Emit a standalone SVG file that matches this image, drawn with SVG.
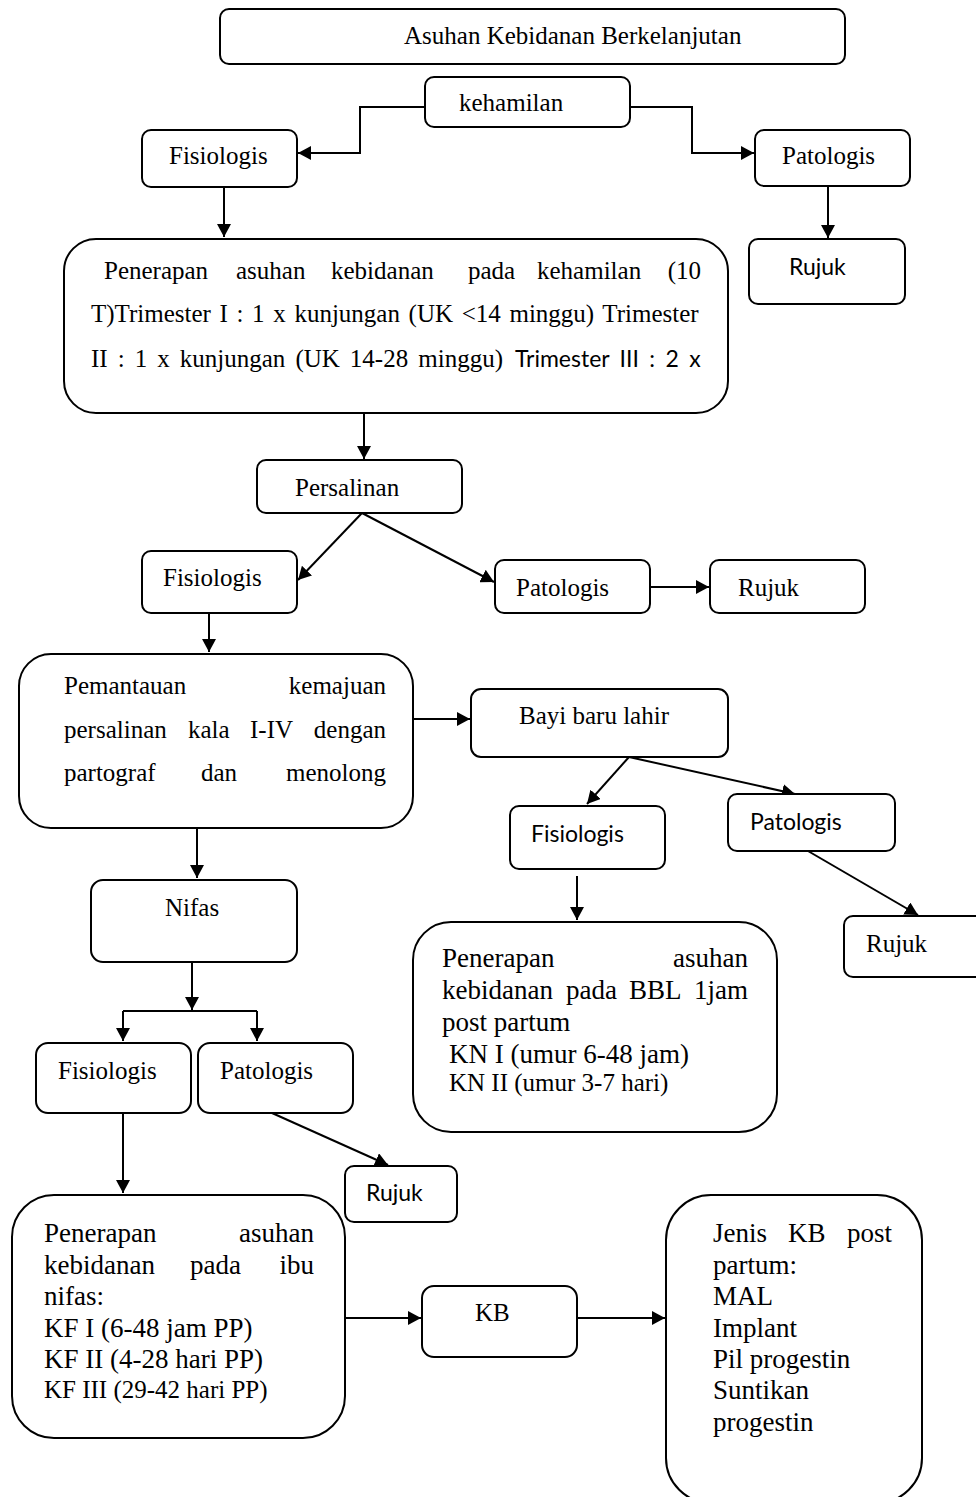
<svg xmlns="http://www.w3.org/2000/svg" width="976" height="1497" viewBox="0 0 976 1497">
<style>
.box{fill:#fff;stroke:#000;stroke-width:2}
.s{font-family:"Liberation Serif","Times New Roman",serif;font-size:25px;fill:#000}
.l{font-family:"Liberation Serif","Times New Roman",serif;font-size:27px;fill:#000}
.c{font-family:Lato,"Liberation Sans",sans-serif;font-size:23px;fill:#000}
.ln{fill:none;stroke:#000;stroke-width:2}
</style>
<defs>
<marker id="ah" markerUnits="userSpaceOnUse" markerWidth="14" markerHeight="14" refX="13" refY="7" orient="auto">
<path d="M0,0 L13,7 L0,14 z" fill="#000"/>
</marker>
</defs>
<rect width="976" height="1497" fill="#fff"/>

<g id="connectors" class="ln">
<polyline points="425,107 360,107 360,153 298,153" marker-end="url(#ah)"/>
<polyline points="630,107 692,107 692,153 754,153" marker-end="url(#ah)"/>
<line x1="224" y1="187" x2="224" y2="237" marker-end="url(#ah)"/>
<line x1="828" y1="186" x2="828" y2="238" marker-end="url(#ah)"/>
<line x1="364" y1="413" x2="364" y2="459" marker-end="url(#ah)"/>
<line x1="362" y1="513" x2="298" y2="580" marker-end="url(#ah)"/>
<line x1="362" y1="513" x2="494" y2="582" marker-end="url(#ah)"/>
<line x1="650" y1="587" x2="709" y2="587" marker-end="url(#ah)"/>
<line x1="209" y1="613" x2="209" y2="652" marker-end="url(#ah)"/>
<line x1="413" y1="719" x2="470" y2="719" marker-end="url(#ah)"/>
<line x1="629" y1="757" x2="587" y2="804" marker-end="url(#ah)"/>
<line x1="629" y1="757" x2="795" y2="794" marker-end="url(#ah)"/>
<line x1="808" y1="851" x2="918" y2="915" marker-end="url(#ah)"/>
<line x1="577" y1="876" x2="577" y2="920" marker-end="url(#ah)"/>
<line x1="197" y1="828" x2="197" y2="878" marker-end="url(#ah)"/>
<line x1="192" y1="962" x2="192" y2="1010" marker-end="url(#ah)"/>
<line x1="123" y1="1011" x2="257" y2="1011"/>
<line x1="123" y1="1011" x2="123" y2="1041" marker-end="url(#ah)"/>
<line x1="257" y1="1011" x2="257" y2="1041" marker-end="url(#ah)"/>
<line x1="272" y1="1113" x2="388" y2="1165" marker-end="url(#ah)"/>
<line x1="123" y1="1113" x2="123" y2="1193" marker-end="url(#ah)"/>
<line x1="345" y1="1318" x2="421" y2="1318" marker-end="url(#ah)"/>
<line x1="577" y1="1318" x2="665" y2="1318" marker-end="url(#ah)"/>
</g>

<g id="title">
<rect class="box" x="220" y="9" width="625" height="55" rx="9"/>
<text class="s" x="404" y="44">Asuhan Kebidanan Berkelanjutan</text>
</g>

<g id="kehamilan">
<rect class="box" x="425" y="77" width="205" height="50" rx="9"/>
<text class="s" x="459" y="111">kehamilan</text>
</g>

<g id="fisiologis1">
<rect class="box" x="142" y="130" width="155" height="57" rx="9"/>
<text class="s" x="169" y="164">Fisiologis</text>
</g>

<g id="patologis1">
<rect class="box" x="755" y="130" width="155" height="56" rx="9"/>
<text class="s" x="782" y="164">Patologis</text>
</g>

<g id="rujuk1">
<rect class="box" x="749" y="239" width="156" height="65" rx="9"/>
<text class="c" x="789" y="275">Rujuk</text>
</g>

<g id="asuhan-kehamilan">
<rect class="box" x="64" y="239" width="664" height="174" rx="32"/>
<text class="s" y="279"><tspan x="104">Penerapan</tspan><tspan x="236">asuhan</tspan><tspan x="331">kebidanan</tspan><tspan x="468">pada</tspan><tspan x="537">kehamilan</tspan><tspan x="701" text-anchor="end">(10</tspan></text>
<text class="s" x="91" y="322" word-spacing="2.4">T)Trimester I : 1 x kunjungan (UK &lt;14 minggu) Trimester</text>
<text y="367"><tspan class="s" x="91" word-spacing="3.8">II : 1 x kunjungan (UK 14-28 minggu)</tspan><tspan class="c" x="515" word-spacing="4.5">Trimester III : 2 x</tspan></text>
</g>

<g id="persalinan">
<rect class="box" x="257" y="460" width="205" height="53" rx="9"/>
<text class="s" x="295" y="496">Persalinan</text>
</g>

<g id="fisiologis2">
<rect class="box" x="142" y="551" width="155" height="62" rx="9"/>
<text class="s" x="163" y="586">Fisiologis</text>
</g>

<g id="patologis2">
<rect class="box" x="495" y="560" width="155" height="53" rx="9"/>
<text class="s" x="516" y="596">Patologis</text>
</g>

<g id="rujuk2">
<rect class="box" x="710" y="560" width="155" height="53" rx="9"/>
<text class="s" x="738" y="596">Rujuk</text>
</g>

<g id="pemantauan">
<rect class="box" x="19" y="654" width="394" height="174" rx="32"/>
<text class="s" y="694"><tspan x="64">Pemantauan</tspan><tspan x="386" text-anchor="end">kemajuan</tspan></text>
<text class="s" y="738"><tspan x="64">persalinan</tspan><tspan x="188">kala</tspan><tspan x="250">I-IV</tspan><tspan x="386" text-anchor="end">dengan</tspan></text>
<text class="s" y="781"><tspan x="64">partograf</tspan><tspan x="201">dan</tspan><tspan x="386" text-anchor="end">menolong</tspan></text>
</g>

<g id="bayi">
<rect class="box" x="471" y="689" width="257" height="68" rx="10"/>
<text class="s" x="519" y="724">Bayi baru lahir</text>
</g>

<g id="fisiologis3">
<rect class="box" x="510" y="806" width="155" height="63" rx="9"/>
<text class="c" x="531" y="842">Fisiologis</text>
</g>

<g id="patologis3">
<rect class="box" x="728" y="794" width="167" height="57" rx="9"/>
<text class="c" x="750" y="830">Patologis</text>
</g>

<g id="rujuk3">
<rect class="box" x="844" y="916" width="145" height="61" rx="9"/>
<text class="s" x="866" y="952">Rujuk</text>
</g>

<g id="asuhan-bbl">
<rect class="box" x="413" y="922" width="364" height="210" rx="38"/>
<text class="l" y="967"><tspan x="442">Penerapan</tspan><tspan x="748" text-anchor="end">asuhan</tspan></text>
<text class="l" y="999"><tspan x="442">kebidanan</tspan><tspan x="566">pada</tspan><tspan x="629">BBL</tspan><tspan x="748" text-anchor="end">1jam</tspan></text>
<text class="l" x="442" y="1031">post partum</text>
<text class="l" x="449" y="1063">KN I (umur 6-48 jam)</text>
<text class="s" x="449" y="1091">KN II (umur 3-7 hari)</text>
</g>

<g id="nifas">
<rect class="box" x="91" y="880" width="206" height="82" rx="12"/>
<text class="s" x="165" y="916">Nifas</text>
</g>

<g id="fisiologis4">
<rect class="box" x="36" y="1043" width="155" height="70" rx="12"/>
<text class="s" x="58" y="1079">Fisiologis</text>
</g>

<g id="patologis4">
<rect class="box" x="198" y="1043" width="155" height="70" rx="12"/>
<text class="s" x="220" y="1079">Patologis</text>
</g>

<g id="rujuk4">
<rect class="box" x="345" y="1166" width="112" height="56" rx="9"/>
<text class="c" x="366" y="1201">Rujuk</text>
</g>

<g id="asuhan-nifas">
<rect class="box" x="12" y="1195" width="333" height="243" rx="42"/>
<text class="l" y="1242"><tspan x="44">Penerapan</tspan><tspan x="314" text-anchor="end">asuhan</tspan></text>
<text class="l" y="1274"><tspan x="44">kebidanan</tspan><tspan x="190">pada</tspan><tspan x="314" text-anchor="end">ibu</tspan></text>
<text class="l" x="44" y="1305">nifas:</text>
<text class="l" x="44" y="1337">KF I (6-48 jam PP)</text>
<text class="l" x="44" y="1368">KF II (4-28 hari PP)</text>
<text class="s" x="44" y="1398">KF III (29-42 hari PP)</text>
</g>

<g id="kb">
<rect class="box" x="422" y="1286" width="155" height="71" rx="12"/>
<text class="s" x="475" y="1321">KB</text>
</g>

<g id="jenis-kb">
<rect class="box" x="666" y="1195" width="256" height="308" rx="45"/>
<text class="l" y="1242"><tspan x="713">Jenis</tspan><tspan x="788">KB</tspan><tspan x="892" text-anchor="end">post</tspan></text>
<text class="l" x="713" y="1274">partum:</text>
<text class="l" x="713" y="1305">MAL</text>
<text class="l" x="713" y="1337">Implant</text>
<text class="l" x="713" y="1368">Pil progestin</text>
<text class="l" x="713" y="1399">Suntikan</text>
<text class="l" x="713" y="1431">progestin</text>
</g>
</svg>
